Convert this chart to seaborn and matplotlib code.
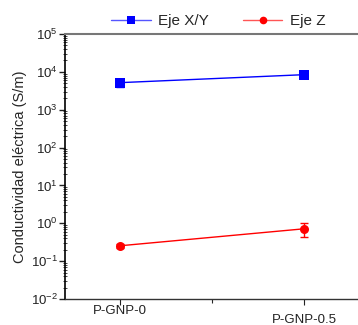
import numpy as np
import pandas as pd
import matplotlib
matplotlib.use("Agg")
import matplotlib.pyplot as plt
import matplotlib.transforms as mtransforms
from matplotlib.ticker import FixedLocator, NullFormatter, LogFormatterSciNotation
from matplotlib.lines import Line2D
import seaborn as sns

categories = ["P-GNP-0", "P-GNP-0.5"]
xy_values = [5190, 8430]
xy_errors = [1100, 300]
z_values = [0.255, 0.716]
z_errors = [0.03, 0.28]
series_names = ["Eje X/Y", "Eje Z"]

sns.set_style("ticks")
plt.rcParams['font.family'] = ['Liberation Sans', 'DejaVu Sans']
plt.rcParams['mathtext.fontset'] = 'custom'
plt.rcParams['mathtext.rm'] = 'Liberation Sans'

fig = plt.figure(figsize=(3.58, 3.25), dpi=100)
ax = fig.add_axes([65/358, 26/325, 1 - 65/358 + 0.004, 265/325])

xpos = np.arange(len(categories))
df = pd.DataFrame({
    "x": np.concatenate([xpos, xpos]),
    "y": xy_values + z_values,
    "serie": [series_names[0]] * 2 + [series_names[1]] * 2,
})
palette = {series_names[0]: "#0000ff", series_names[1]: "#ff0000"}
markers = {series_names[0]: "s", series_names[1]: "o"}
sns.lineplot(data=df, x="x", y="y", hue="serie", style="serie", palette=palette,
             markers=markers, dashes=False, markersize=6.5, linewidth=1,
             markeredgewidth=0, ax=ax, legend=False)
ax.errorbar(xpos, xy_values, yerr=xy_errors, fmt="none", ecolor="#0000ff",
            elinewidth=1, capsize=3, capthick=1)
ax.errorbar(xpos, z_values, yerr=z_errors, fmt="none", ecolor="#ff0000",
            elinewidth=1, capsize=3, capthick=1)

ax.set_yscale("log")
ax.set_ylim(1e-2, 1e5)
ax.set_xlim(-0.3, 1.3)
decades = np.arange(-2, 6)
ax.yaxis.set_major_locator(FixedLocator(10.0 ** decades))
ax.yaxis.set_major_formatter(LogFormatterSciNotation())
minor = [m * 10.0 ** d for d in decades[:-1] for m in range(2, 10)]
ax.yaxis.set_minor_locator(FixedLocator(minor))
ax.yaxis.set_minor_formatter(NullFormatter())
ax.set_xticks(xpos)
ax.set_xticklabels(categories)
ax.xaxis.set_minor_locator(FixedLocator([0.5]))

ax.tick_params(axis="y", which="major", direction="out", length=4, width=1,
               labelsize=9.5, pad=1, colors="#222222")
ax.tick_params(axis="y", which="minor", direction="inout", length=3, width=0.6)
ax.tick_params(axis="x", which="major", direction="out", length=4, width=0.8,
               labelsize=9.5, pad=0.5, colors="#222222")
ax.tick_params(axis="x", which="minor", direction="out", length=3, width=0.8)

# second category label sits lower
lbl = ax.get_xticklabels()[1]
lbl.set_transform(lbl.get_transform() +
                  mtransforms.ScaledTranslation(0, -9/100, fig.dpi_scale_trans))

ax.xaxis.label.set_visible(False)
ax.set_ylabel("Conductividad eléctrica (S/m)", fontsize=10.5, labelpad=3)

ax.spines["left"].set_color("#000000")
ax.spines["left"].set_linewidth(1.2)
ax.spines["bottom"].set_color("#333333")
ax.spines["bottom"].set_linewidth(1.0)
ax.spines["top"].set_visible(True)
ax.spines["top"].set_color("#777777")
ax.spines["top"].set_linewidth(1.5)
ax.spines["right"].set_visible(False)

handles = [Line2D([0], [0], color="#5555ff", lw=1, marker="s", markersize=5.5,
                  markerfacecolor="#0000ff", markeredgewidth=0),
           Line2D([0], [0], color="#ff5555", lw=1, marker="o", markersize=5.5,
                  markerfacecolor="#ff0000", markeredgewidth=0)]
fig.legend(handles, series_names, loc="center", bbox_to_anchor=(0.61, 1 - 21/325),
           ncol=2, frameon=False, fontsize=11, handlelength=2.6,
           columnspacing=2.2, handletextpad=0.5)

fig.savefig("out.png", dpi=100)
